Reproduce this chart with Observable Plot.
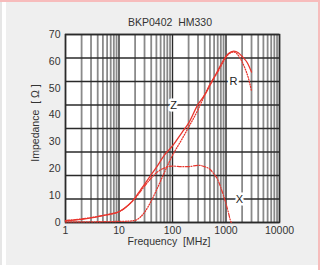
<!DOCTYPE html>
<html>
<head>
<meta charset="utf-8">
<script src="https://cdn.jsdelivr.net/npm/d3@7"></script>
<script src="https://cdn.jsdelivr.net/npm/@observablehq/plot@0.6"></script>
<style>
  html, body { margin: 0; padding: 0; width: 320px; height: 270px; background: #fff; overflow: hidden; }
  body { font-family: "Liberation Sans", Arial, sans-serif; position: relative; }
  #topline { position: absolute; left: 0; top: 0; width: 320px; height: 2px; background: #f7bcbc; }
  #panel { position: absolute; left: 6px; top: 2px; width: 312px; height: 263px; background: #efefef; }
  #rightline { position: absolute; left: 318px; top: 0; width: 2px; height: 270px; background: #f7bcbc; }
  #leftstrip { position: absolute; left: 0; top: 2px; width: 2px; height: 263px; background: #e6e6e6; }
  #chart { position: absolute; left: 0; top: 0; }
  .lbl { position: absolute; color: #333; font-size: 10.5px; white-space: nowrap; }
  #title { left: 170px; top: 22px; transform: translate(-50%, -50%); }
  #xlabel { left: 169px; top: 241px; transform: translate(-50%, -50%); }
  #ylabel { left: 35px; top: 123px; transform: translate(-50%, -50%) rotate(-90deg); }
</style>
</head>
<body>
<div id="topline"></div>
<div id="leftstrip"></div>
<div id="panel"></div>
<div id="rightline"></div>
<div id="chart"></div>
<div class="lbl" id="title">BKP0402&nbsp;&nbsp;HM330</div>
<div class="lbl" id="xlabel">Frequency&nbsp;&nbsp;[MHz]</div>
<div class="lbl" id="ylabel">Impedance&nbsp;&nbsp;[&nbsp;Ω&nbsp;]</div>
<script>
// Impedance |Z| (solid)
const zFreq = [1, 2, 3, 5, 7, 10, 15, 20, 25, 30, 40, 50, 70, 100, 150, 200, 300, 400, 500, 700, 900, 1100, 1400, 1700, 2000, 2500, 3000];
const zVal  = [0.7, 1.2, 1.7, 2.6, 3.2, 4.0, 6.5, 9.2, 12, 14.2, 17.8, 20.5, 25, 28.5, 33.5, 37, 44, 47.5, 51, 56.5, 60.5, 62.8, 63.8, 63.2, 61.8, 59.5, 56];
// Resistance R (dotted)
const rFreq = [1, 5, 10, 15, 20, 25, 30, 40, 50, 60, 70, 100, 150, 200, 300, 400, 500, 700, 900, 1100, 1400, 1800, 2200, 2600, 3000];
const rVal  = [0.2, 0.3, 0.4, 0.5, 0.8, 2, 3.8, 8, 12, 15.5, 18.5, 25, 31, 35.5, 42, 47.5, 51.5, 56, 60, 62.5, 63.5, 61.5, 58, 54, 49];
// Reactance X (dash-dot)
const xFreq = [1, 5, 10, 20, 30, 40, 50, 70, 100, 150, 200, 300, 400, 500, 600, 700, 800, 900, 1000, 1100, 1200, 1250];
const xVal  = [0.7, 2.6, 4.0, 9, 13.5, 16.5, 18.5, 20.3, 21, 20.8, 20.8, 21.3, 20.8, 19.8, 18, 16, 13, 10, 7, 4, 1, 0];
// Curve labels
const curveNames = ["Z", "R", "X"];
const curveLabelFreq = [105, 1380, 1790];
const curveLabelVal = [43.75, 52.5, 8.75];
// Axis ticks / grid
const xTicks = [1, 10, 100, 1000, 10000];
const yTicks = [0, 10, 20, 30, 40, 50, 60, 70];
const hGrid = [0, 8.75, 17.5, 26.25, 35, 43.75, 52.5, 61.25, 70];
const minorMult = [2, 3, 4, 5, 6, 7, 8, 9];

const minorX = [];
for (const d of [1, 10, 100, 1000]) for (const m of minorMult) minorX.push(d * m);

const mk = (f, v) => f.map((x, i) => ({f: x, v: v[i]}));
const zData = mk(zFreq, zVal), rData = mk(rFreq, rVal), xData = mk(xFreq, xVal);
const labels = curveNames.map((n, i) => ({n, f: curveLabelFreq[i], v: curveLabelVal[i]}));

const red = "#e8362e";
const chart = Plot.plot({
  width: 320,
  height: 270,
  marginLeft: 65,
  marginRight: 41,
  marginTop: 34,
  marginBottom: 48,
  style: {background: "transparent", fontFamily: "'Liberation Sans', Arial, sans-serif", fontSize: "10.5px", color: "#333"},
  x: {type: "log", domain: [1, 10000], ticks: xTicks, tickFormat: d => String(d), tickSize: 0, tickPadding: 4, label: null},
  y: {domain: [0, 70], ticks: yTicks, tickSize: 0, tickPadding: 5, label: null},
  marks: [
    Plot.frame({fill: "white", stroke: null}),
    Plot.ruleX(minorX, {stroke: "#8a8a8a", strokeWidth: 1.8}),
    Plot.ruleX(xTicks, {stroke: "#2a2a2a", strokeWidth: 1.4}),
    Plot.ruleY(hGrid, {stroke: "#2a2a2a", strokeWidth: 1.4}),
    Plot.frame({stroke: "#2a2a2a", strokeWidth: 1.5}),
    Plot.line(zData, {x: "f", y: "v", curve: "monotone-x", stroke: red, strokeWidth: 1.3}),
    Plot.line(rData, {x: "f", y: "v", curve: "monotone-x", stroke: red, strokeWidth: 1.3, strokeDasharray: "1,1.6"}),
    Plot.line(xData, {x: "f", y: "v", curve: "monotone-x", stroke: red, strokeWidth: 1.2, strokeDasharray: "4,1.6,1,1.6"}),
    Plot.text(labels, {x: "f", y: "v", text: "n", fill: "#222", stroke: "white", strokeWidth: 5, fontSize: 11})
  ]
});
document.getElementById("chart").appendChild(chart);
</script>
</body>
</html>
